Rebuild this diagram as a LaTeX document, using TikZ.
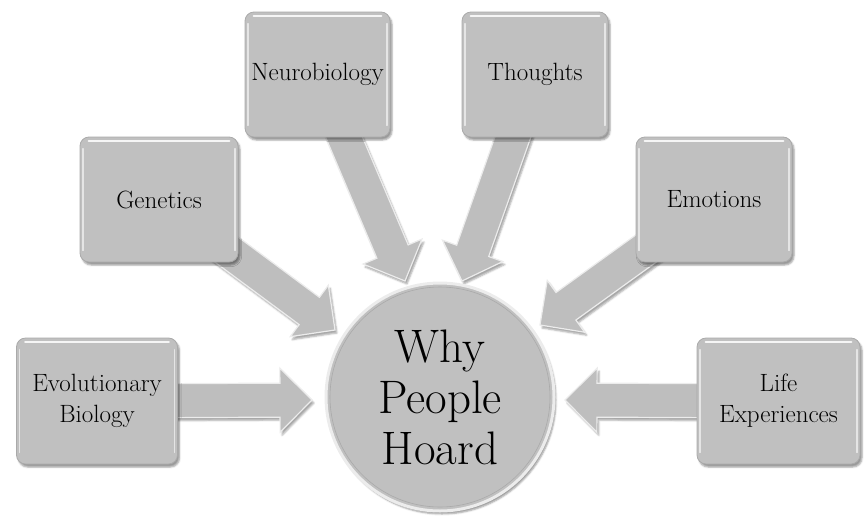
\documentclass[tikz,border=0pt]{standalone}
\usetikzlibrary{calc,shadows.blur}
\definecolor{boxgray}{RGB}{192,192,192}
\definecolor{rimgray}{RGB}{170,170,170}
\definecolor{shinegray}{RGB}{236,236,236}
\definecolor{arrowgray}{RGB}{190,190,190}

% block arrow from the centre of node #1 to the tip coordinate #2
\newcommand\hoardarrow[2]{%
  \coordinate (hb) at ($(#2)!32pt!(#1)$);
  \fill[arrowgray, draw=shinegray, line width=1.2pt, line join=miter,
        blur shadow={shadow xshift=2pt, shadow yshift=-3pt, shadow opacity=35}]
    ($(#1)!17pt!90:(#2)$) -- ($(hb)!17pt!90:(#2)$) -- ($(hb)!32pt!90:(#2)$)
    -- (#2)
    -- ($(hb)!32pt!-90:(#2)$) -- ($(hb)!17pt!-90:(#2)$) -- ($(#1)!17pt!-90:(#2)$) -- cycle;
}

\tikzset{
  card/.style 2 args={rectangle, rounded corners=9pt, fill=boxgray, draw=rimgray,
    line width=0.8pt, minimum width=#1, minimum height=#2, align=center,
    inner sep=1pt, font=\fontsize{25}{31}\selectfont,
    blur shadow={shadow xshift=2pt, shadow yshift=-3pt, shadow opacity=40}},
  hub/.style={circle, fill=boxgray, draw=shinegray, line width=3pt,
    minimum size=228pt, align=center, inner sep=0pt,
    font=\fontsize{47}{51}\selectfont,
    blur shadow={shadow xshift=2pt, shadow yshift=-3pt, shadow opacity=40}},
  shine/.style={white, line width=2.2pt, line cap=round, opacity=0.85}
}

\begin{document}
\begin{tikzpicture}[x=1pt, y=-1pt]
  \useasboundingbox (0,0) rectangle (867,517);

  % positions of the cards
  \coordinate (evoC) at (97,401);
  \coordinate (genC) at (159,199.5);
  \coordinate (neuC) at (317.5,74.5);
  \coordinate (thoC) at (535,74.5);
  \coordinate (emoC) at (714,199.5);
  \coordinate (lifC) at (778.5,401);

  % arrow tips around the hub
  \coordinate (evoT) at (312,400);
  \coordinate (genT) at (335,330);
  \coordinate (neuT) at (405,281);
  \coordinate (thoT) at (462,281);
  \coordinate (emoT) at (540,325);
  \coordinate (lifT) at (565,400);

  % block arrows, behind the cards
  \hoardarrow{evoC}{evoT}
  \hoardarrow{genC}{genT}
  \hoardarrow{neuC}{neuT}
  \hoardarrow{thoC}{thoT}
  \hoardarrow{emoC}{emoT}
  \hoardarrow{lifC}{lifT}

  % cards
  \node[card={161pt}{126pt}] (evo) at (evoC) {Evolutionary\\Biology};
  \node[card={158pt}{125pt}] (gen) at (genC) {Genetics};
  \node[card={145pt}{125pt}] (neu) at (neuC) {Neurobiology};
  \node[card={146pt}{125pt}] (tho) at (thoC) {Thoughts};
  \node[card={156pt}{125pt}] (emo) at (emoC) {Emotions};
  \node[card={163pt}{126pt}] (lif) at (lifC) {Life\\Experiences};

  % glossy rim along the top of each card
  \foreach \n in {evo,gen,neu,tho,emo,lif}{
    \draw[shine] ($(\n.north west)+(9,4)$) -- ($(\n.north east)+(-9,4)$);
    \draw[shine, line width=1.4pt, opacity=0.6] ($(\n.north west)+(3.5,12)$) -- ($(\n.south west)+(3.5,-12)$);
    \draw[shine, line width=1.4pt, opacity=0.6] ($(\n.north east)+(-3.5,12)$) -- ($(\n.south east)+(-3.5,-12)$);
  }

  % hub
  \node[hub] (hub) at (440,397) {Why\\People\\Hoard};
  \draw[rimgray, line width=0.6pt] (hub.center) circle (110pt);
\end{tikzpicture}
\end{document}
